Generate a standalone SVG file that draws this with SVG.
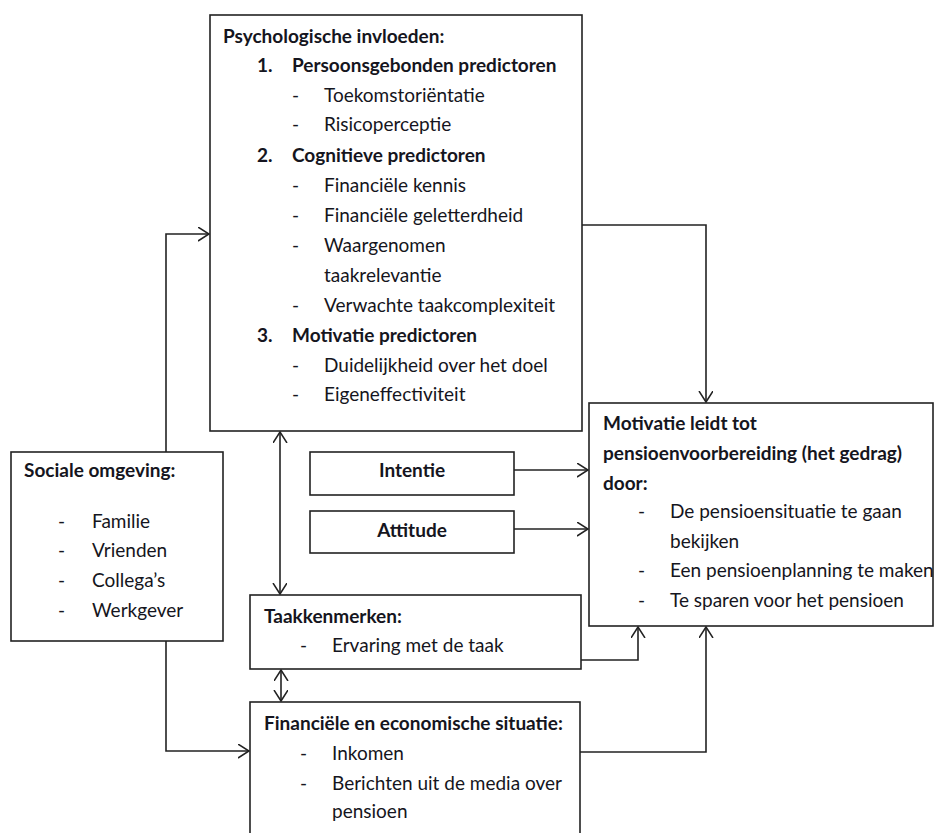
<svg xmlns="http://www.w3.org/2000/svg" width="934" height="833" viewBox="0 0 934 833">
<defs>
<marker id="ah" markerUnits="userSpaceOnUse" markerWidth="14" markerHeight="16" refX="11" refY="7" orient="auto-start-reverse">
<path d="M0,0 L11,7 L0,14" fill="none" stroke="#222" stroke-width="1.5"/>
</marker>
</defs>
<style>
.box{fill:#fff;stroke:#222;stroke-width:1.6}
.c{fill:none;stroke:#222;stroke-width:1.6}
text{font-family:Lato,"Liberation Sans",sans-serif;font-size:19px;fill:#151520}
.b{font-weight:bold}
.m{text-anchor:middle}
</style>
<rect width="934" height="833" fill="#fff"/>
<g id="connectors">
<path class="c" d="M166,452 V234 H209" marker-end="url(#ah)"/>
<path class="c" d="M166,641 V751 H249" marker-end="url(#ah)"/>
<path class="c" d="M582,225 H706 V402" marker-end="url(#ah)"/>
<path class="c" d="M514,470 H588" marker-end="url(#ah)"/>
<path class="c" d="M514,529 H588" marker-end="url(#ah)"/>
<path class="c" d="M280,432 V594" marker-start="url(#ah)" marker-end="url(#ah)"/>
<path class="c" d="M281,670 V701" marker-start="url(#ah)" marker-end="url(#ah)"/>
<path class="c" d="M581,660 H638 V627" marker-end="url(#ah)"/>
<path class="c" d="M580,752 H706 V627" marker-end="url(#ah)"/>
</g>
<g id="psych">
<rect class="box" x="210" y="15" width="372" height="416"/>
<text class="b" x="223" y="43">Psychologische invloeden:</text>
<text class="b" x="257" y="72">1.</text>
<text class="b" x="292" y="72">Persoonsgebonden predictoren</text>
<text x="292" y="102">-</text><text x="324" y="102">Toekomstoriëntatie</text>
<text x="292" y="131">-</text><text x="324" y="131">Risicoperceptie</text>
<text class="b" x="257" y="162">2.</text>
<text class="b" x="292" y="162">Cognitieve predictoren</text>
<text x="292" y="192">-</text><text x="324" y="192">Financiële kennis</text>
<text x="292" y="222">-</text><text x="324" y="222">Financiële geletterdheid</text>
<text x="292" y="252">-</text><text x="324" y="252">Waargenomen</text>
<text x="324" y="282">taakrelevantie</text>
<text x="292" y="312">-</text><text x="324" y="312">Verwachte taakcomplexiteit</text>
<text class="b" x="257" y="342">3.</text>
<text class="b" x="292" y="342">Motivatie predictoren</text>
<text x="292" y="372">-</text><text x="324" y="372">Duidelijkheid over het doel</text>
<text x="292" y="401">-</text><text x="324" y="401">Eigeneffectiviteit</text>
</g>
<g id="sociaal">
<rect class="box" x="11" y="452" width="212" height="189"/>
<text class="b" x="24" y="477">Sociale omgeving:</text>
<text x="58" y="528">-</text><text x="92" y="528">Familie</text>
<text x="58" y="557">-</text><text x="92" y="557">Vrienden</text>
<text x="58" y="587">-</text><text x="92" y="587">Collega’s</text>
<text x="58" y="617">-</text><text x="92" y="617">Werkgever</text>
</g>
<g id="intentie">
<rect class="box" x="310" y="452" width="204" height="43"/>
<text class="b m" x="412" y="477">Intentie</text>
</g>
<g id="attitude">
<rect class="box" x="310" y="511" width="204" height="42"/>
<text class="b m" x="412" y="537">Attitude</text>
</g>
<g id="motivatie">
<rect class="box" x="589" y="403" width="344" height="223"/>
<text class="b" x="603" y="430">Motivatie leidt tot</text>
<text class="b" x="603" y="460">pensioenvoorbereiding (het gedrag)</text>
<text class="b" x="603" y="490">door:</text>
<text x="638" y="518">-</text><text x="670" y="518">De pensioensituatie te gaan</text>
<text x="670" y="548">bekijken</text>
<text x="638" y="577">-</text><text x="670" y="577">Een pensioenplanning te maken</text>
<text x="638" y="607">-</text><text x="670" y="607">Te sparen voor het pensioen</text>
</g>
<g id="taak">
<rect class="box" x="250" y="595" width="331" height="74"/>
<text class="b" x="264" y="623">Taakkenmerken:</text>
<text x="300" y="652">-</text><text x="332" y="652">Ervaring met de taak</text>
</g>
<g id="financieel">
<rect class="box" x="250" y="702" width="330" height="140"/>
<text class="b" x="264" y="730">Financiële en economische situatie:</text>
<text x="300" y="760">-</text><text x="332" y="760">Inkomen</text>
<text x="300" y="790">-</text><text x="332" y="790">Berichten uit de media over</text>
<text x="332" y="818">pensioen</text>
</g>
</svg>
